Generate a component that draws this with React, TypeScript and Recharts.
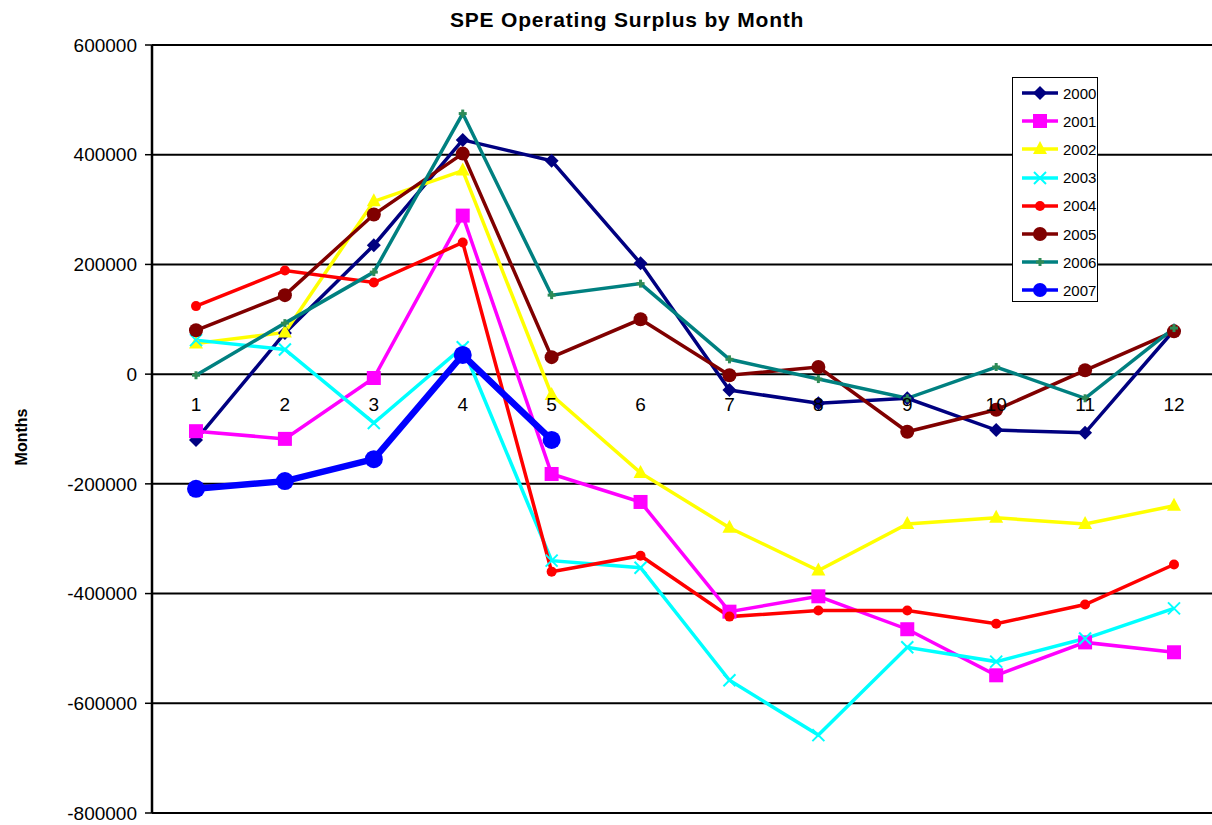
import { CartesianGrid, Legend, Line, LineChart, XAxis, YAxis } from "recharts"

const FONT = "'Liberation Sans', Arial, sans-serif"

const months = ["1", "2", "3", "4", "5", "6", "7", "8", "9", "10", "11", "12"]
const yTicks = [-800000, -600000, -400000, -200000, 0, 200000, 400000, 600000]

const y2000 = [-120000, 75000, 235000, 427000, 389000, 202000, -29000, -53000, -44000, -102000, -107000, 80000]
const y2001 = [-104000, -118000, -7000, 289000, -182000, -233000, -433000, -405000, -465000, -549000, -489000, -507000]
const y2002 = [56000, 76000, 315000, 371000, -38000, -180000, -280000, -358000, -273000, -262000, -273000, -240000]
const y2003 = [62000, 45000, -89000, 49000, -340000, -353000, -558000, -658000, -498000, -524000, -482000, -427000]
const y2004 = [124000, 189000, 167000, 240000, -360000, -331000, -442000, -431000, -431000, -455000, -420000, -347000]
const y2005 = [80000, 144000, 291000, 402000, 31000, 100000, -2000, 13000, -105000, -65000, 7000, 78000]
const y2006 = [-2000, 93000, 186000, 475000, 144000, 165000, 27000, -9000, -44000, 13000, -44000, 84000]
const y2007 = [-209000, -195000, -155000, 35000, -120000]

const series = [
  { name: "2000", values: y2000, color: "#000080", shape: "diamond", width: 3.5 },
  { name: "2001", values: y2001, color: "#FF00FF", shape: "square", width: 3.5 },
  { name: "2002", values: y2002, color: "#FFFF00", shape: "triangle", width: 3.5 },
  { name: "2003", values: y2003, color: "#00FFFF", shape: "x", width: 3.5 },
  { name: "2004", values: y2004, color: "#FF0000", shape: "dot", width: 3.5 },
  { name: "2005", values: y2005, color: "#800000", shape: "circle", width: 3.5 },
  { name: "2006", values: y2006, color: "#008080", shape: "plus", width: 3.5 },
  { name: "2007", values: y2007, color: "#0000FF", shape: "big", width: 6.5 },
]

const data = months.map((m, i) => {
  const row: Record<string, string | number | null> = { month: m }
  series.forEach((s) => {
    row[s.name] = i < s.values.length ? s.values[i] : null
  })
  return row
})

// plot geometry
const CHART_W = 1218
const CHART_H = 825
const PLOT_TOP = 45
const PLOT_BOTTOM_GAP = 12
const PLOT_H = CHART_H - PLOT_TOP - PLOT_BOTTOM_GAP
const ZERO_Y = PLOT_TOP + (PLOT_H * 600000) / 1400000

function marker(shape: string, cx: number, cy: number, color: string, key?: string) {
  switch (shape) {
    case "diamond":
      return <polygon key={key} points={`${cx},${cy - 7} ${cx + 7},${cy} ${cx},${cy + 7} ${cx - 7},${cy}`} fill={color} />
    case "square":
      return <rect key={key} x={cx - 7} y={cy - 7} width={14} height={14} fill={color} />
    case "triangle":
      return <polygon key={key} points={`${cx},${cy - 8} ${cx + 7},${cy + 5} ${cx - 7},${cy + 5}`} fill={color} />
    case "x":
      return (
        <g key={key} stroke={color} strokeWidth={2}>
          <line x1={cx - 6} y1={cy - 6} x2={cx + 6} y2={cy + 6} />
          <line x1={cx - 6} y1={cy + 6} x2={cx + 6} y2={cy - 6} />
        </g>
      )
    case "dot":
      return <circle key={key} cx={cx} cy={cy} r={5} fill={color} />
    case "circle":
      return <circle key={key} cx={cx} cy={cy} r={7} fill={color} />
    case "plus":
      return (
        <g key={key} stroke="#2E8B57" strokeWidth={3}>
          <line x1={cx - 4} y1={cy} x2={cx + 4} y2={cy} />
          <line x1={cx} y1={cy - 4} x2={cx} y2={cy + 4} />
        </g>
      )
    default:
      return <circle key={key} cx={cx} cy={cy} r={9} fill={color} />
  }
}

function MonthTick({ x, payload }: any) {
  return (
    <text x={x} y={ZERO_Y + 37} textAnchor="middle" fill="#000" fontSize={19} fontFamily={FONT}>
      {payload.value}
    </text>
  )
}

function YTitle() {
  return (
    <text
      x={27}
      y={437}
      transform="rotate(-90 27 437)"
      textAnchor="middle"
      fontSize={16}
      fontWeight="bold"
      fontFamily={FONT}
      fill="#000"
    >
      Months
    </text>
  )
}

function LegendBox() {
  return (
    <div
      style={{
        width: 86,
        height: 225,
        border: "1.5px solid #000",
        background: "#fff",
        fontFamily: FONT,
        fontSize: 15,
        boxSizing: "border-box",
      }}
    >
      {series.map((s, i) => (
        <div key={s.name} style={{ position: "absolute", left: 0, top: 5 + i * 28.2, height: 22, display: "flex", alignItems: "center" }}>
          <svg width={50} height={22}>
            <line x1={10} y1={11} x2={46} y2={11} stroke={s.color} strokeWidth={3.5} />
            {marker(s.shape === "big" ? "circle" : s.shape, 28, 11, s.color)}
          </svg>
          <span style={{ marginLeft: 1 }}>{s.name}</span>
        </div>
      ))}
    </div>
  )
}

export default function App() {
  return (
    <div style={{ position: "absolute", left: 0, top: 0, width: 1212, height: 825, overflow: "hidden", background: "#fff" }}>
      <div
        style={{
          position: "absolute",
          left: 450,
          top: 9,
          fontFamily: FONT,
          fontSize: 21,
          fontWeight: "bold",
          lineHeight: 1,
          letterSpacing: 0.8,
          whiteSpace: "nowrap",
        }}
      >
        SPE Operating Surplus by Month
      </div>
      <LineChart width={CHART_W} height={CHART_H} data={data} margin={{ top: PLOT_TOP, right: 0, bottom: 0, left: 0 }}>
        <CartesianGrid vertical={false} stroke="#000" strokeWidth={2} />
        <XAxis
          dataKey="month"
          height={PLOT_BOTTOM_GAP}
          axisLine={false}
          tickLine={false}
          interval={0}
          padding={{ left: 44, right: 44 }}
          tick={<MonthTick />}
        />
        <YAxis
          width={152}
          domain={[-800000, 600000]}
          ticks={yTicks}
          interval={0}
          axisLine={{ stroke: "#000", strokeWidth: 2.5 }}
          tickLine={{ stroke: "#000", strokeWidth: 1.5 }}
          tickSize={7}
          tickMargin={8}
          tick={{ fill: "#000", fontSize: 19, fontFamily: FONT }}
          label={<YTitle />}
        />
        <Legend
          layout="vertical"
          align="center"
          verticalAlign="middle"
          wrapperStyle={{ left: 1012, top: 77, width: 86 }}
          content={() => <LegendBox />}
        />
        {series.map((s) => (
          <Line
            key={s.name}
            dataKey={s.name}
            name={s.name}
            stroke={s.color}
            strokeWidth={s.width}
            isAnimationActive={false}
            connectNulls={false}
            activeDot={false}
            dot={(p: any) =>
              p.cx == null || p.cy == null || p.value == null ? (
                <g key={`${s.name}-${p.index}`} />
              ) : (
                marker(s.shape, p.cx, p.cy, s.color, `${s.name}-${p.index}`)
              )
            }
          />
        ))}
      </LineChart>
    </div>
  )
}
